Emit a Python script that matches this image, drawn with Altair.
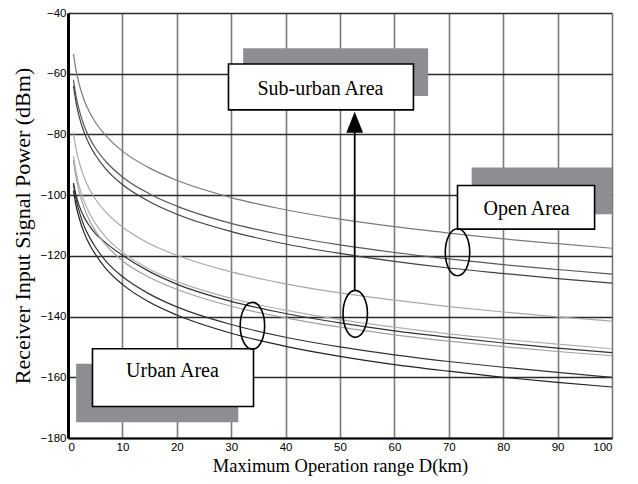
import altair as alt
import pandas as pd

# distance samples (km)
dist = [1, 1.5, 2, 3, 4, 5, 7, 10, 15, 20, 30, 40, 50, 60, 70, 80, 90, 100]

# received power curves (dBm)
open_1 = [-53.5, -59.1, -63.1, -68.8, -72.8, -75.9, -80.5, -85.5, -91.1, -95.1, -100.8, -104.8, -107.9, -110.4, -112.5, -114.4, -116.0, -117.5]
open_2 = [-62.0, -67.6, -71.6, -77.3, -81.3, -84.4, -89.0, -94.0, -99.6, -103.6, -109.3, -113.3, -116.4, -118.9, -121.0, -122.9, -124.5, -126.0]
open_3 = [-64.0, -69.7, -73.8, -79.5, -83.6, -86.7, -91.5, -96.5, -102.2, -106.3, -112.0, -116.1, -119.2, -121.8, -124.0, -125.8, -127.5, -129.0]
sub_1 = [-79.5, -85.0, -88.8, -94.3, -98.2, -101.2, -105.7, -110.5, -116.0, -119.8, -125.3, -129.2, -132.2, -134.6, -136.7, -138.5, -140.1, -141.5]
sub_2 = [-87.0, -92.6, -96.6, -102.2, -106.1, -109.2, -113.9, -118.8, -124.4, -128.4, -134.0, -137.9, -141.0, -143.5, -145.7, -147.5, -149.1, -150.6]
sub_3 = [-96.0, -100.2, -103.2, -107.4, -110.3, -112.6, -115.8, -119.8, -125.2, -129.3, -135.0, -139.0, -142.1, -144.7, -146.8, -148.7, -150.4, -151.9]
sub_4 = [-88.5, -94.4, -98.5, -104.4, -108.5, -111.7, -116.5, -121.6, -127.1, -131.0, -136.6, -140.4, -143.5, -146.0, -148.1, -149.9, -151.5, -152.9]
urb_1 = [-96.5, -101.5, -105.0, -110.3, -114.0, -117.0, -121.8, -126.8, -132.6, -136.8, -142.6, -146.8, -150.0, -152.6, -154.8, -156.7, -158.4, -160.0]
urb_2 = [-98.5, -103.6, -107.2, -112.6, -116.4, -119.4, -124.3, -129.4, -135.3, -139.5, -145.5, -149.8, -153.1, -155.8, -158.0, -160.0, -161.7, -163.2]

series_names = ["o1", "o2", "o3", "s1", "s2", "s3", "s4", "u1", "u2"]
series_vals = [open_1, open_2, open_3, sub_1, sub_2, sub_3, sub_4, urb_1, urb_2]
series_colors = ["#7a7a7a", "#585858", "#404040", "#a8a8a8", "#b0b0b0", "#333333", "#a0a0a0", "#333333", "#222222"]

rows = []
for name, vals in zip(series_names, series_vals):
    for d, p in zip(dist, vals):
        rows.append({"curve": name, "d": d, "p": p})
df = pd.DataFrame(rows)

# annotation boxes (data units)
box_text = ["Sub-urban Area", "Open Area", "Urban Area"]
box_x1 = [29.5, 71.6, 4.5]
box_x2 = [63.5, 96.8, 34.1]
box_y1 = [-56.8, -96.8, -150.6]
box_y2 = [-71.9, -111.2, -169.6]
sh_x1 = [32.2, 74.2, 1.5]
sh_x2 = [66.2, 100.0, 31.3]
sh_y1 = [-51.6, -90.9, -155.5]
sh_y2 = [-67.3, -106.3, -174.8]
txt_x = [46.4, 84.3, 19.2]
txt_y = [-65.0, -104.4, -157.8]

ell_x = [33.9, 52.8, 71.6]
ell_y = [-143.0, -139.1, -118.8]

arrow_x = [52.7]
arrow_y1 = [-131.2]
arrow_y2 = [-75.5]
head_y = [-76.0]

boxes = pd.DataFrame({"t": box_text, "x1": box_x1, "x2": box_x2, "y1": box_y1, "y2": box_y2,
                      "sx1": sh_x1, "sx2": sh_x2, "sy1": sh_y1, "sy2": sh_y2,
                      "tx": txt_x, "ty": txt_y})
ells = pd.DataFrame({"x": ell_x, "y": ell_y})
arrow = pd.DataFrame({"x": arrow_x, "y1": arrow_y1, "y2": arrow_y2, "hy": head_y})

xscale = alt.Scale(domain=[0, 100], nice=False)
yscale = alt.Scale(domain=[-180, -40], nice=False)

xaxis = alt.Axis(values=list(range(0, 101, 10)), title="Maximum Operation range D(km)",
                 grid=True, gridColor="#7a7a7a", gridWidth=1.6, ticks=False,
                 labelFont="Liberation Sans", labelFontSize=11.5, labelColor="black", labelPadding=3,
                 titleFont="Liberation Serif", titleFontSize=18.5, titleFontWeight="normal",
                 titleColor="black", titlePadding=4,
                 domainColor="black", domainWidth=2)
yaxis = alt.Axis(values=list(range(-180, -39, 20)), title="Receiver Input Signal Power (dBm)",
                 grid=True, gridColor="#2a2a2a", gridWidth=1.3, ticks=False,
                 labelFont="Liberation Sans", labelFontSize=11.5, labelColor="black", labelPadding=2,
                 titleFont="Liberation Serif", titleFontSize=22, titleFontWeight="normal",
                 titleColor="black", titlePadding=6,
                 domainColor="black", domainWidth=3)

lines = alt.Chart(df).mark_line(strokeWidth=1.2, interpolate="monotone", clip=True).encode(
    x=alt.X("d:Q", scale=xscale, axis=xaxis),
    y=alt.Y("p:Q", scale=yscale, axis=yaxis),
    color=alt.Color("curve:N", scale=alt.Scale(domain=series_names, range=series_colors), legend=None),
    detail="curve:N",
)

shadow = alt.Chart(boxes).mark_rect(color="#8e8e92").encode(
    x="sx1:Q", x2="sx2:Q", y="sy1:Q", y2="sy2:Q")
box = alt.Chart(boxes).mark_rect(fill="white", stroke="black", strokeWidth=1.6).encode(
    x="x1:Q", x2="x2:Q", y="y1:Q", y2="y2:Q")
text = alt.Chart(boxes).mark_text(font="Liberation Serif", fontSize=20, color="black").encode(
    x="tx:Q", y="ty:Q", text="t:N")

ellipse_path = "M -0.52,0 A 0.52,1 0 1,0 0.52,0 A 0.52,1 0 1,0 -0.52,0 Z"
ellipses = alt.Chart(ells).mark_point(shape=ellipse_path, size=2209, filled=False,
                                       stroke="black", strokeWidth=1.6, opacity=1).encode(
    x="x:Q", y="y:Q")

arrow_line = alt.Chart(arrow).mark_rule(color="black", strokeWidth=1.8).encode(
    x="x:Q", y="y1:Q", y2="y2:Q")
arrow_head = alt.Chart(arrow).mark_point(shape="M 0,-1 L 0.8,1 L -0.8,1 Z", size=441,
                                         filled=True, color="black", opacity=1).encode(
    x="x:Q", y="hy:Q")

chart = alt.layer(lines, shadow, box, text, ellipses, arrow_line, arrow_head).properties(
    width=544, height=425,
    padding={"left": 60, "top": 5, "right": 18, "bottom": 38},
    autosize=alt.AutoSizeParams(type="none"),
).configure_view(stroke="black", strokeWidth=2).configure(background="white")

chart.save("out.html", embed_options={"renderer": "svg", "actions": False})
